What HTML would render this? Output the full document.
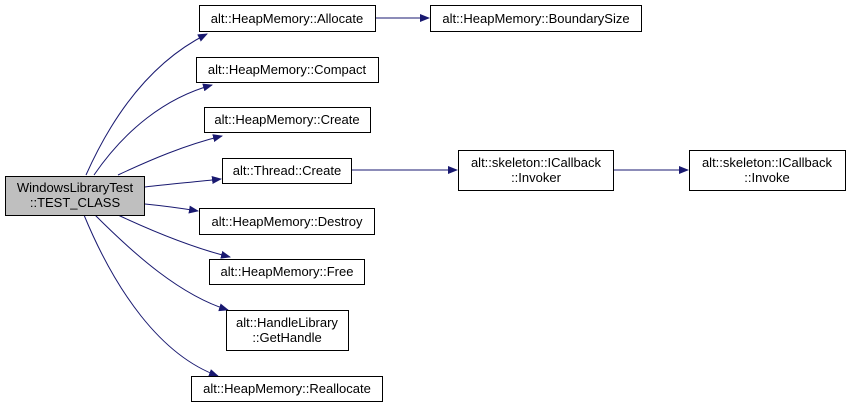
<!DOCTYPE html>
<html><head><meta charset="utf-8"><style>
html,body{margin:0;padding:0;background:#fff;}
svg text{font-family:"Liberation Sans",Arial,sans-serif;font-size:13px;fill:#000;}
</style></head><body>
<svg width="849" height="408" viewBox="0 0 849 408" xmlns="http://www.w3.org/2000/svg">
<defs><marker id="a" markerWidth="10" markerHeight="8" refX="9" refY="4" orient="auto" markerUnits="userSpaceOnUse"><path d="M0,0 L10,4 L0,8 z" fill="#191970"/></marker></defs>
<g fill="none" stroke="#191970" stroke-width="1" marker-end="url(#a)">
<path d="M86,175 C115,110 155,60 207,34"/>
<path d="M94,175 C125,130 165,98 212,85"/>
<path d="M118,175 C150,160 185,145 222,136"/>
<path d="M145,187 C170,184 195,182 221,179"/>
<path d="M145,204 C165,206 180,208 198,211"/>
<path d="M118,215 C150,230 190,247 230,257"/>
<path d="M95,215 C135,255 180,295 228,310"/>
<path d="M84,215 C115,290 160,355 218,376"/>
<path d="M375,18 L429,18"/>
<path d="M351,170 L457,170"/>
<path d="M613,170 L688,170"/>
</g>
<g stroke="#000" stroke-width="1">
<rect x="5.5" y="176.5" width="139" height="39" fill="#bfbfbf"/>
<rect x="199.5" y="5.5" width="176" height="26" fill="#fff"/>
<rect x="196.5" y="57.5" width="182" height="25" fill="#fff"/>
<rect x="204.5" y="107.5" width="166" height="25" fill="#fff"/>
<rect x="222.5" y="158.5" width="129" height="25" fill="#fff"/>
<rect x="199.5" y="208.5" width="175" height="26" fill="#fff"/>
<rect x="209.5" y="259.5" width="155" height="25" fill="#fff"/>
<rect x="226.5" y="310.5" width="122" height="40" fill="#fff"/>
<rect x="191.5" y="376.5" width="191" height="25" fill="#fff"/>
<rect x="430.5" y="5.5" width="211" height="26" fill="#fff"/>
<rect x="458.5" y="150.5" width="155" height="40" fill="#fff"/>
<rect x="689.5" y="150.5" width="156" height="40" fill="#fff"/>
</g>
<g text-anchor="middle">
<text x="75" y="192">WindowsLibraryTest</text>
<text x="75" y="207">::TEST_CLASS</text>
<text x="287" y="23">alt::HeapMemory::Allocate</text>
<text x="287" y="74">alt::HeapMemory::Compact</text>
<text x="287" y="124">alt::HeapMemory::Create</text>
<text x="287" y="175">alt::Thread::Create</text>
<text x="287" y="226">alt::HeapMemory::Destroy</text>
<text x="287" y="276">alt::HeapMemory::Free</text>
<text x="287" y="327">alt::HandleLibrary</text>
<text x="287" y="342">::GetHandle</text>
<text x="287" y="393">alt::HeapMemory::Reallocate</text>
<text x="536" y="23">alt::HeapMemory::BoundarySize</text>
<text x="536" y="167">alt::skeleton::ICallback</text>
<text x="536" y="182">::Invoker</text>
<text x="767" y="167">alt::skeleton::ICallback</text>
<text x="767" y="182">::Invoke</text>
</g>
</svg>
</body></html>
